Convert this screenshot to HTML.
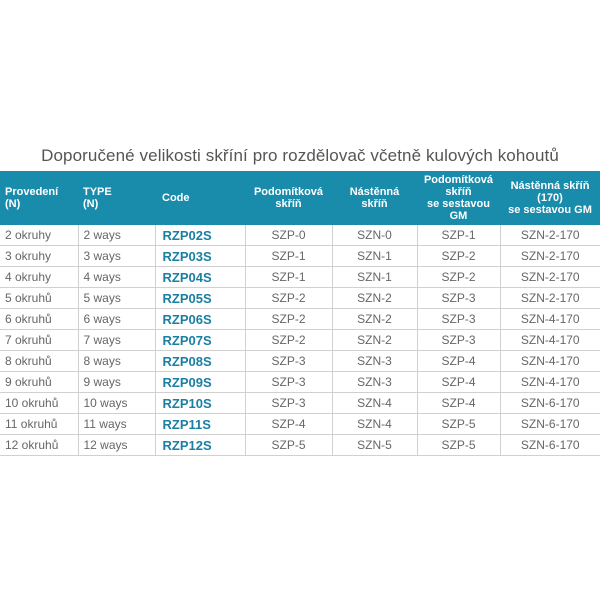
<!DOCTYPE html>
<html><head><meta charset="utf-8"><style>
body{margin:0;width:600px;height:600px;background:#fff;font-family:"Liberation Sans",sans-serif;overflow:hidden;position:relative}
.t{position:absolute;top:146px;left:0;width:600px;text-align:center;font-size:17px;color:#555;letter-spacing:0.1px}
table{position:absolute;top:171px;left:0;width:600px;border-collapse:collapse;table-layout:fixed}
th{background:#1a8cab;color:#fff;font-size:11px;font-weight:bold;height:54px;padding:0;line-height:12px}
td{height:20px;font-size:12px;color:#666;border-bottom:1px solid #d0d0d0;border-left:1px solid #d0d0d0;padding:0;text-align:center}
td:first-child{border-left:none}
td.l{text-align:left;padding-left:5px}
td.c{color:#1a7fa3;font-weight:bold;font-size:13px;text-align:left;padding-left:7px}
th.l{text-align:left;padding-left:5px}
</style></head><body>
<div class="t">Doporučené velikosti skříní pro rozdělovač včetně kulových kohoutů</div>
<table>
<colgroup><col style="width:78px"><col style="width:77px"><col style="width:90px"><col style="width:87px"><col style="width:85px"><col style="width:83px"><col style="width:100px"></colgroup>
<tr><th class="l">Provedení<br>(N)</th><th class="l">TYPE<br>(N)</th><th class="l" style="padding-left:7px">Code</th><th>Podomítková<br>skříň</th><th>Nástěnná<br>skříň</th><th>Podomítková<br>skříň<br>se sestavou<br>GM</th><th>Nástěnná skříň<br>(170)<br>se sestavou GM</th></tr>
<tr><td class="l">2 okruhy</td><td class="l">2 ways</td><td class="c">RZP02S</td><td>SZP-0</td><td>SZN-0</td><td>SZP-1</td><td>SZN-2-170</td></tr>
<tr><td class="l">3 okruhy</td><td class="l">3 ways</td><td class="c">RZP03S</td><td>SZP-1</td><td>SZN-1</td><td>SZP-2</td><td>SZN-2-170</td></tr>
<tr><td class="l">4 okruhy</td><td class="l">4 ways</td><td class="c">RZP04S</td><td>SZP-1</td><td>SZN-1</td><td>SZP-2</td><td>SZN-2-170</td></tr>
<tr><td class="l">5 okruhů</td><td class="l">5 ways</td><td class="c">RZP05S</td><td>SZP-2</td><td>SZN-2</td><td>SZP-3</td><td>SZN-2-170</td></tr>
<tr><td class="l">6 okruhů</td><td class="l">6 ways</td><td class="c">RZP06S</td><td>SZP-2</td><td>SZN-2</td><td>SZP-3</td><td>SZN-4-170</td></tr>
<tr><td class="l">7 okruhů</td><td class="l">7 ways</td><td class="c">RZP07S</td><td>SZP-2</td><td>SZN-2</td><td>SZP-3</td><td>SZN-4-170</td></tr>
<tr><td class="l">8 okruhů</td><td class="l">8 ways</td><td class="c">RZP08S</td><td>SZP-3</td><td>SZN-3</td><td>SZP-4</td><td>SZN-4-170</td></tr>
<tr><td class="l">9 okruhů</td><td class="l">9 ways</td><td class="c">RZP09S</td><td>SZP-3</td><td>SZN-3</td><td>SZP-4</td><td>SZN-4-170</td></tr>
<tr><td class="l">10 okruhů</td><td class="l">10 ways</td><td class="c">RZP10S</td><td>SZP-3</td><td>SZN-4</td><td>SZP-4</td><td>SZN-6-170</td></tr>
<tr><td class="l">11 okruhů</td><td class="l">11 ways</td><td class="c">RZP11S</td><td>SZP-4</td><td>SZN-4</td><td>SZP-5</td><td>SZN-6-170</td></tr>
<tr><td class="l">12 okruhů</td><td class="l">12 ways</td><td class="c">RZP12S</td><td>SZP-5</td><td>SZN-5</td><td>SZP-5</td><td>SZN-6-170</td></tr>
</table>
</body></html>
